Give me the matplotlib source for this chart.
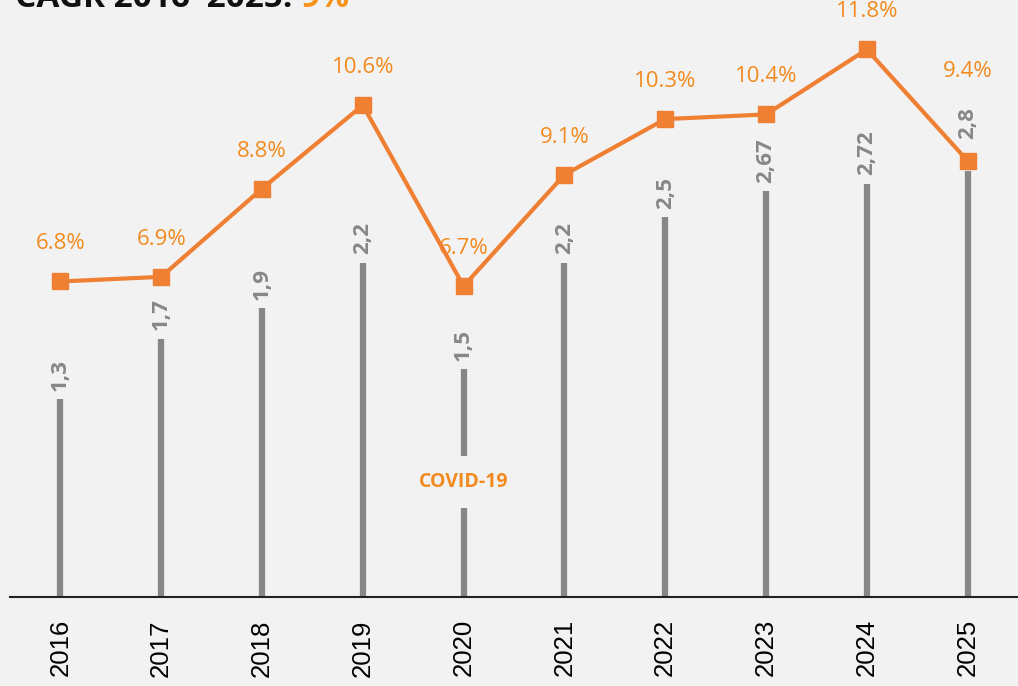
import matplotlib
matplotlib.use("Agg")
import matplotlib.pyplot as plt

years = ["2016", "2017", "2018", "2019", "2020", "2021", "2022", "2023", "2024", "2025"]
volume = [1.3, 1.7, 1.9, 2.2, 1.5, 2.2, 2.5, 2.67, 2.72, 2.8]
volume_labels = ["1,3", "1,7", "1,9", "2,2", "1,5", "2,2", "2,5", "2,67", "2,72", "2,8"]
growth = [6.8, 6.9, 8.8, 10.6, 6.7, 9.1, 10.3, 10.4, 11.8, 9.4]
growth_labels = ["6.8%", "6.9%", "8.8%", "10.6%", "6.7%", "9.1%", "10.3%", "10.4%", "11.8%", "9.4%"]

BG = "#f2f2f2"
GRAY = "#878787"
ORANGE = "#ef7f33"
TXT_ORANGE = "#f28a1f"

# pixel scales of the two series (shared baseline)
PX_VOL = 152
PX_PCT = 46.4
AX_H = 597

fig = plt.figure(figsize=(10.18, 6.86), dpi=100, facecolor=BG)
ax = fig.add_axes([10 / 1018, 89 / 686, 1008 / 1018, AX_H / 686])
ax.set_facecolor(BG)

x = list(range(len(years)))

# grey stems
ax.vlines(x, 0, volume, color=GRAY, lw=4.5, zorder=1)
for xi, v, g, lab in zip(x, volume, growth, volume_labels):
    off = 6
    gap = g * PX_PCT - v * PX_VOL
    if -10 < gap < 60:
        # orange marker sits on the stem top -> lift label above it
        off = (gap + 22) * 0.72
    ax.annotate(lab, (xi, v), xytext=(0, off), textcoords="offset points",
                rotation=90, ha="center", va="bottom", color=GRAY,
                fontsize=16, fontweight="bold", family="Open Sans", zorder=5)

ax.set_xlim(-0.5, 9.5)
ax.set_ylim(0, AX_H / PX_VOL)
ax.set_xticks(x)
ax.set_xticklabels(years, rotation=90, fontsize=18.5, family="Liberation Sans")
ax.tick_params(axis="x", length=0, pad=16)
ax.set_yticks([])
for s in ["top", "right", "left"]:
    ax.spines[s].set_visible(False)
ax.spines["bottom"].set_linewidth(1.5)
ax.spines["bottom"].set_color("#222222")

# covid note over the 2020 stem
ax.text(4, 115 / PX_VOL, "COVID-19", ha="center", va="center", color=TXT_ORANGE,
        fontsize=14, fontweight="bold", family="Open Sans", zorder=3,
        bbox=dict(boxstyle="square,pad=0.8", fc=BG, ec="none"))

# growth line
ax2 = ax.twinx()
ax2.set_ylim(0, AX_H / PX_PCT)
ax2.plot(x, growth, color=ORANGE, lw=3, marker="s", markersize=12, zorder=4)
ax2.set_yticks([])
for s in ax2.spines.values():
    s.set_visible(False)
for i, (xi, g, lab) in enumerate(zip(x, growth, growth_labels)):
    off = 64 if i == len(x) - 1 else 27
    ax2.annotate(lab, (xi, g), xytext=(0, off), textcoords="offset points",
                 ha="center", va="center", color=TXT_ORANGE, fontsize=16,
                 family="Open Sans")

# title (cut at the top like the source)
title = fig.text(15 / 1018, 679 / 686, "CAGR 2016\u20132025: ", fontsize=24,
                 fontweight="bold", family="Open Sans", color="#111111",
                 va="baseline")
fig.canvas.draw()
r = title.get_window_extent()
fig.text(r.x1 / 1018, 679 / 686, "9%", fontsize=24, fontweight="bold",
         family="Open Sans", color="#f7941d", va="baseline")

fig.savefig("out.png", dpi=100, facecolor=BG)
